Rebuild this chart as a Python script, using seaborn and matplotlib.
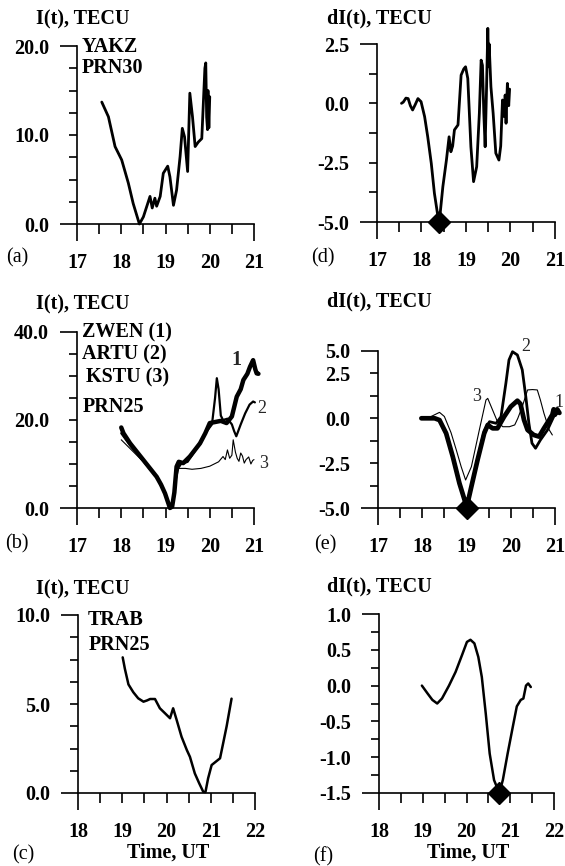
# --- IMPORT LIBRARIES ---
import numpy as np
import pandas as pd
import matplotlib
matplotlib.use('Agg')
import matplotlib.pyplot as plt
import seaborn as sns

# --- DATA ---
# (a) YAKZ PRN30, I(t)
a_time = [17.56, 17.71, 17.86, 18.01, 18.16, 18.27, 18.41, 18.5, 18.65, 18.70, 18.76, 18.8, 18.88,
          18.95, 19.05, 19.10, 19.18, 19.25, 19.33, 19.38, 19.43, 19.5, 19.55, 19.61, 19.67, 19.74,
          19.82, 19.85, 19.89, 19.91, 19.93, 19.95, 19.96, 19.98, 20.0]
a_tec = [13.7, 12.05, 8.7, 7.2, 4.6, 2.3, 0.0, 0.8, 3.1, 1.8, 2.9, 2.0, 3.1,
         5.7, 6.5, 5.3, 2.1, 3.8, 7.6, 10.75, 9.8, 5.9, 14.7, 12.05, 8.7, 9.2,
         9.6, 13.0, 17.5, 18.1, 12.0, 10.6, 15.0, 10.8, 14.3]

# (d) YAKZ PRN30, dI(t)
d_time = [17.55, 17.59, 17.65, 17.70, 17.75, 17.80, 17.86, 17.92, 17.99, 18.07, 18.14, 18.22, 18.29,
          18.37, 18.40, 18.48, 18.56, 18.62, 18.66, 18.70, 18.74, 18.82, 18.89, 18.95, 18.99, 19.04,
          19.11, 19.17, 19.24, 19.30, 19.34, 19.37, 19.40, 19.43, 19.46, 19.49, 19.51, 19.52, 19.56,
          19.61, 19.67, 19.74, 19.78, 19.82, 19.86, 19.88, 19.90, 19.93, 19.96, 19.98]
d_tec = [0.0, 0.05, 0.22, 0.2, -0.1, -0.28, -0.05, 0.2, 0.07, -0.56, -1.41, -2.53, -3.79,
         -4.78, -5.0, -3.51, -2.39, -1.41, -2.04, -1.8, -1.12, -0.91, 1.19, 1.45, 1.54, 1.05,
         -1.83, -3.3, -2.67, -0.42, 1.82, 1.6, -0.4, -1.83, 0.5, 3.16, 1.54, 2.5, 0.7,
         -0.42, -2.1, -2.39, -1.8, 0.14, -0.56, 0.35, -0.84, 0.84, -0.1, 0.6]
d_min = (18.4, -5.0)

# (b) ZWEN (1), ARTU (2), KSTU (3), PRN25, I(t)
b1_time = [18.0, 18.05, 18.2, 18.35, 18.5, 18.65, 18.8, 18.9, 18.99, 19.05, 19.1, 19.15, 19.2, 19.25,
           19.3, 19.4, 19.55, 19.65, 19.78, 19.9, 20.0, 20.15, 20.25, 20.38, 20.5, 20.61, 20.7, 20.76,
           20.85, 20.91, 20.98, 21.03, 21.06, 21.1]
b1_tec = [18.3, 17.0, 14.7, 12.8, 10.9, 9.0, 7.1, 5.3, 3.3, 1.5, 0.0, 0.3, 3.5, 9.4,
          10.5, 10.2, 11.7, 13.0, 14.7, 17.0, 19.3, 19.6, 19.8, 19.3, 20.8, 25.3, 27.0, 29.1,
          30.5, 32.1, 33.6, 31.5, 30.6, 30.5]
b2_time = [18.0, 18.2, 18.5, 18.8, 18.99, 19.1, 19.15, 19.2, 19.25, 19.35, 19.5, 19.7, 19.9, 20.05,
           20.12, 20.16, 20.2, 20.25, 20.3, 20.4, 20.5, 20.55, 20.6, 20.7, 20.8, 20.9, 20.98, 21.02]
b2_tec = [17.0, 14.2, 10.7, 7.0, 3.2, 0.0, 0.5, 4.0, 8.5, 10.0, 10.5, 13.5, 17.0, 19.0,
          25.0, 29.5, 27.0, 21.0, 20.0, 20.3, 19.0, 17.5, 16.3, 19.0, 21.5, 23.5, 24.2, 24.0]
b3_time = [18.0, 18.2, 18.5, 18.8, 18.99, 19.1, 19.15, 19.2, 19.3, 19.45, 19.6, 19.8, 20.0, 20.1,
           20.2, 20.3, 20.35, 20.4, 20.45, 20.5, 20.53, 20.58, 20.62, 20.66, 20.7, 20.74, 20.78,
           20.82, 20.88, 20.93, 20.97, 21.0]
b3_tec = [15.5, 13.5, 10.5, 6.8, 3.0, 0.0, 0.5, 4.5, 9.0, 9.0, 8.8, 9.0, 9.5, 10.0,
          10.5, 11.7, 11.0, 13.2, 11.3, 12.0, 15.5, 12.7, 11.3, 10.6, 12.5, 11.8, 10.2,
          11.0, 11.6, 10.0, 10.8, 11.0]

# (e) the same three stations, dI(t)
e1_time = [17.98, 18.1, 18.28, 18.39, 18.54, 18.69, 18.84, 18.98, 19.0, 19.11, 19.25, 19.4, 19.48,
           19.59, 19.7, 19.85, 20.0, 20.15, 20.22, 20.3, 20.38, 20.52, 20.64, 20.75, 20.87, 20.94,
           20.97, 21.0, 21.05, 21.1]
e1_tec = [0.0, 0.0, 0.0, -0.1, -0.84, -2.14, -3.62, -4.74, -5.0, -3.81, -2.32, -0.84, -0.37,
          -0.56, -0.56, 0.09, 0.65, 0.98, 0.8, -0.09, -0.65, -0.93, -1.02, -0.56, -0.09, 0.2,
          0.5, 0.2, 0.5, 0.3]
e2_time = [17.98, 18.28, 18.39, 18.54, 18.69, 18.84, 18.98, 19.02, 19.11, 19.25, 19.4, 19.52, 19.67,
           19.78, 19.89, 19.96, 20.04, 20.15, 20.26, 20.34, 20.41, 20.48, 20.56, 20.67, 20.83, 20.97,
           21.05]
e2_tec = [0.0, 0.0, -0.1, -0.8, -2.1, -3.6, -4.8, -4.9, -3.8, -2.3, -0.7, -0.19, -0.28,
          0.09, 1.95, 3.25, 3.71, 3.53, 2.7, 1.21, -0.28, -1.39, -1.67, -1.21, -0.65, 0.09,
          0.3]
e3_time = [17.98, 18.2, 18.39, 18.5, 18.65, 18.77, 18.88, 18.98, 19.11, 19.29, 19.44, 19.48, 19.59,
           19.7, 19.82, 19.97, 20.09, 20.16, 20.26, 20.38, 20.49, 20.6, 20.67, 20.75, 20.87, 20.94]
e3_tec = [0.0, 0.1, 0.33, 0.1, -0.8, -1.77, -2.7, -3.44, -2.7, -0.65, 1.02, 1.11, 0.46,
          -0.19, -0.47, -0.47, -0.37, 0.0, 0.65, 1.58, 1.6, 1.58, 1.02, 0.28, -0.65, -0.93]
e_min = (19.0, -5.0)

# (c) TRAB PRN25, I(t)
c_time = [19.01, 19.06, 19.14, 19.25, 19.36, 19.48, 19.56, 19.63, 19.74, 19.85, 19.97, 20.08, 20.15,
          20.23, 20.34, 20.46, 20.53, 20.64, 20.74, 20.83, 20.88, 20.94, 21.02, 21.11, 21.21, 21.28,
          21.36, 21.47]
c_tec = [7.62, 6.97, 6.1, 5.66, 5.32, 5.13, 5.2, 5.28, 5.28, 4.76, 4.47, 4.2, 4.76,
         4.1, 3.16, 2.41, 2.03, 1.1, 0.54, 0.07, 0.05, 0.82, 1.57, 1.75, 1.95, 2.79,
         3.76, 5.3]

# (f) TRAB PRN25, dI(t)
f_time = [18.98, 19.11, 19.22, 19.33, 19.44, 19.6, 19.75, 19.9, 20.01, 20.09, 20.18, 20.27, 20.35,
          20.44, 20.53, 20.63, 20.75, 20.83, 20.94, 21.06, 21.15, 21.24, 21.3, 21.36, 21.41, 21.47]
f_tec = [0.0, -0.11, -0.2, -0.25, -0.18, 0.0, 0.19, 0.43, 0.61, 0.64, 0.59, 0.4, 0.12,
         -0.39, -0.95, -1.32, -1.5, -1.32, -0.95, -0.57, -0.29, -0.2, -0.18, 0.0, 0.03, -0.02]
f_min = (20.75, -1.5)

# y tick positions and their labels ('' = unlabelled tick); (e) carries the top label as printed
a_yticks = [0, 2.5, 5, 7.5, 10, 12.5, 15, 17.5, 20]
a_ylabels = ['0.0', '', '', '', '10.0', '', '', '', '20.0']
d_yticks = [-5, -3.75, -2.5, -1.25, 0, 1.25, 2.5]
d_ylabels = ['-5.0', '', '-2.5', '', '0.0', '', '2.5']
b_yticks = [0, 5, 10, 15, 20, 25, 30, 35, 40]
b_ylabels = ['0.0', '', '', '', '20.0', '', '', '', '40.0']
e_yticks = [-5, -3.75, -2.5, -1.25, 0, 1.25, 2.5, 3.75]
e_ylabels = ['-5.0', '', '-2.5', '', '0.0', '', '2.5', '5.0']
c_yticks = [0, 1.25, 2.5, 3.75, 5, 6.25, 7.5, 8.75, 10]
c_ylabels = ['0.0', '', '', '', '5.0', '', '', '', '10.0']
f_yticks = [-1.5, -1.25, -1.0, -0.75, -0.5, -0.25, 0, 0.25, 0.5, 0.75, 1.0]
f_ylabels = ['-1.5', '', '-1.0', '', '-0.5', '', '0.0', '', '0.5', '', '1.0']

# --- FIGURE SETUP ---
sns.set_style('ticks')
plt.rcParams['font.family'] = ['Liberation Serif', 'DejaVu Serif']
W, H = 565, 866
FS = 14.5
fig = plt.figure(figsize=(W / 100, H / 100), dpi=100)


# Place an axes from pixel edges of the reference
def px_axes(x0, x1, ytop, ybot):
    return fig.add_axes([x0 / W, 1 - ybot / H, (x1 - x0) / W, (ybot - ytop) / H])


# Style an axes like the scanned figure: only left/bottom, ticks out, long end ticks
def style_axes(ax, xlim, yticks, ylabels):
    ax.set_xlim(*xlim)
    ax.set_ylim(yticks[0], yticks[-1])
    xt = np.arange(xlim[0], xlim[1] + 0.01, 0.5)
    ax.set_xticks(xt, [f'{v:.0f}' if v == int(v) else '' for v in xt])
    ax.set_yticks(yticks, ylabels)
    sns.despine(ax=ax)
    for s in ['left', 'bottom']:
        ax.spines[s].set_linewidth(1.2)
        ax.spines[s].set_color('black')
    ax.tick_params(axis='x', direction='out', length=7, width=1.2, pad=14,
                   labelsize=FS, colors='black')
    ax.tick_params(axis='y', direction='out', length=6, width=1.2, pad=14,
                   labelsize=FS, colors='black')
    for lab in ax.get_xticklabels() + ax.get_yticklabels():
        lab.set_fontweight('bold')
    for ticks in [ax.xaxis.get_major_ticks(), ax.yaxis.get_major_ticks()]:
        ticks[0].tick1line.set_markersize(12)
        ticks[-1].tick1line.set_markersize(12)
    ax.set_xlabel('')
    ax.set_ylabel('')


def draw(ax, t, v, lw):
    sns.lineplot(x=t, y=v, ax=ax, sort=False, estimator=None, color='black',
                 linewidth=lw, clip_on=False)


def diamond(ax, pt):
    ax.plot([pt[0]], [pt[1]], marker='D', markersize=11, color='black',
            linestyle='none', clip_on=False, zorder=5)


def ftext(x, y, s, **kw):
    kw.setdefault('fontsize', FS)
    kw.setdefault('va', 'center')
    fig.text(x / W, 1 - y / H, s, color='black', **kw)


# --- PANELS ---
ax_a = px_axes(77, 254, 46, 224)
draw(ax_a, a_time, a_tec, 2.0)
style_axes(ax_a, (17, 21), a_yticks, a_ylabels)

ax_d = px_axes(377, 555, 44, 222)
draw(ax_d, d_time, d_tec, 2.0)
diamond(ax_d, d_min)
style_axes(ax_d, (17, 21), d_yticks, d_ylabels)

ax_b = px_axes(77, 254, 332, 508)
draw(ax_b, b3_time, b3_tec, 0.8)
draw(ax_b, b2_time, b2_tec, 1.6)
draw(ax_b, b1_time, b1_tec, 3.2)
style_axes(ax_b, (17, 21), b_yticks, b_ylabels)

ax_e = px_axes(378, 555, 351, 508)
draw(ax_e, e3_time, e3_tec, 0.8)
draw(ax_e, e2_time, e2_tec, 2.0)
draw(ax_e, e1_time, e1_tec, 3.4)
diamond(ax_e, e_min)
style_axes(ax_e, (17, 21), e_yticks, e_ylabels)

ax_c = px_axes(78, 255, 615, 793)
draw(ax_c, c_time, c_tec, 1.8)
style_axes(ax_c, (18, 22), c_yticks, c_ylabels)

ax_f = px_axes(379, 554, 614, 793)
draw(ax_f, f_time, f_tec, 1.8)
diamond(ax_f, f_min)
style_axes(ax_f, (18, 22), f_yticks, f_ylabels)

# --- TEXT ---
# axis titles at the top left of each panel
ftext(36, 19, 'I(t), TECU', fontweight='bold')
ftext(327, 18, 'dI(t), TECU', fontweight='bold')
ftext(36, 304, 'I(t), TECU', fontweight='bold')
ftext(327, 301, 'dI(t), TECU', fontweight='bold')
ftext(36, 589, 'I(t), TECU', fontweight='bold')
ftext(327, 586, 'dI(t), TECU', fontweight='bold')

# station names
ftext(82, 47, 'YAKZ', fontweight='bold')
ftext(82, 68, 'PRN30', fontweight='bold')
ftext(82, 332, 'ZWEN (1)', fontweight='heavy')
ftext(82, 354, 'ARTU (2)', fontweight='bold')
ftext(86, 377, 'KSTU (3)', fontweight='bold')
ftext(83, 407, 'PRN25', fontweight='bold')
ftext(88, 620, 'TRAB', fontweight='bold')
ftext(89, 645, 'PRN25', fontweight='bold')

# curve numbers
ax_b.text(20.61, 33.6, '1', fontsize=FS, fontweight='bold', ha='center', va='center')
ax_b.text(21.17, 22.7, '2', fontsize=13, ha='center', va='center', clip_on=False)
ax_b.text(21.21, 10.2, '3', fontsize=13, ha='center', va='center', clip_on=False)
ax_e.text(21.1, 0.9, '1', fontsize=13, ha='center', va='center', clip_on=False)
ax_e.text(20.33, 4.0, '2', fontsize=13, ha='center', va='center', clip_on=False)
ax_e.text(19.24, 1.2, '3', fontsize=13, ha='center', va='center', clip_on=False)

# panel letters
ftext(17, 258, '(a)', ha='center')
ftext(323, 258, '(d)', ha='center')
ftext(17, 544, '(b)', ha='center')
ftext(325, 545, '(e)', ha='center')
ftext(23, 855, '(c)', ha='center')
ftext(323, 857, '(f)', ha='center')

# time axis labels
ftext(168, 853, 'Time, UT', ha='center', fontweight='bold')
ftext(468, 853, 'Time, UT', ha='center', fontweight='bold')

fig.savefig('out.png', dpi=100)
